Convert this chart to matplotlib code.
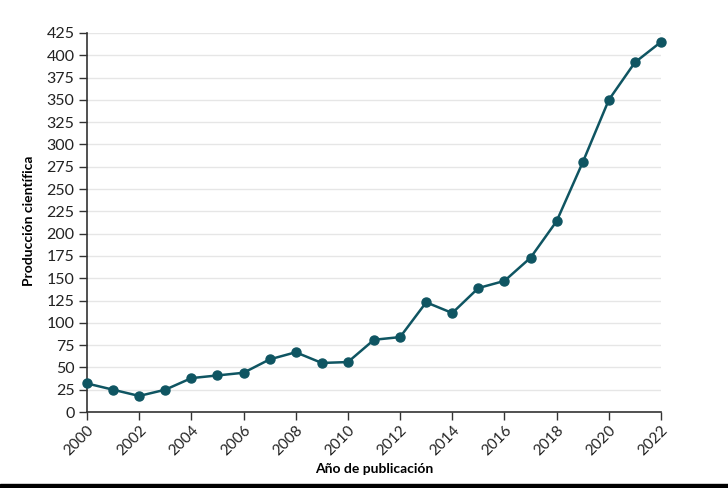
import matplotlib
matplotlib.use("Agg")
import matplotlib.pyplot as plt
from matplotlib.patches import Rectangle

years = list(range(2000, 2023))
values = [32, 25, 18, 25, 38, 41, 44, 59, 67, 55, 56, 81, 84, 123, 111, 139, 147, 173, 214, 280, 350, 392, 415]
yticks = list(range(0, 426, 25))
xticks = list(range(2000, 2023, 2))

plt.rcParams['font.family'] = ['Lato', 'DejaVu Sans']

fig = plt.figure(figsize=(7.28, 4.88), dpi=100)
ax = fig.add_axes([87/728, 1-412/488, (661-87)/728, (412-33)/488])

color = '#0f5562'
ax.plot(years, values, color=color, lw=1.8, marker='o', ms=6.5, zorder=3, clip_on=False)

ax.set_xlim(2000, 2022)
ax.set_ylim(0, 425)
ax.set_yticks(yticks)
ax.set_xticks(xticks)
ax.set_xticklabels([str(x) for x in xticks], rotation=45, ha='right', rotation_mode='anchor')
ax.tick_params(axis='both', direction='out', length=6, width=1, color='#333333', labelsize=11.5, labelcolor='#222222')
ax.tick_params(axis='x', labelsize=11, pad=2)
ax.tick_params(axis='y', pad=3)

ax.yaxis.grid(True, color='#e6e6e6', lw=1)
ax.set_axisbelow(True)
for s in ['top', 'right']:
    ax.spines[s].set_visible(False)
for s in ['left', 'bottom']:
    ax.spines[s].set_color('#333333')
    ax.spines[s].set_linewidth(1.2)

ax.set_xlabel('Año de publicación', fontsize=10, fontweight='bold')
ax.xaxis.set_label_coords(0.5, -(469-412)/379, transform=ax.transAxes)
ax.xaxis.label.set_va('center')
ax.set_ylabel('Producción científica', fontsize=10, fontweight='bold')
ax.yaxis.set_label_coords(-(87-29)/574, (412-221)/379, transform=ax.transAxes)
ax.yaxis.label.set_va('center')

fig.patches.append(Rectangle((0, 0), 1, 4/488, transform=fig.transFigure, color='black', zorder=10))

fig.savefig('out.png', dpi=100)
